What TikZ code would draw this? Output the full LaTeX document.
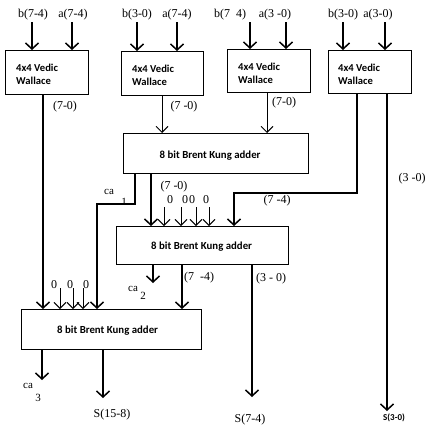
\documentclass[tikz,border=0pt]{standalone}
\usepackage{fontspec}
\setmainfont{Liberation Serif}
\newfontfamily\bxf{Carlito}
\usetikzlibrary{arrows.meta}
\begin{document}
\begin{tikzpicture}[x=1pt,y=-1pt,
  box/.style={draw,line width=1.2pt,inner sep=0pt,anchor=north west},
  wtxt/.style={anchor=west,align=left,font=\bxf\bfseries\fontsize{10.6}{13}\selectfont,inner sep=0pt},
  btxt/.style={font=\bxf\bfseries\fontsize{10.8}{12}\selectfont,inner sep=0pt},
  lbl/.style={font=\fontsize{12}{14}\selectfont,inner sep=0pt},
  slbl/.style={font=\fontsize{11}{13}\selectfont,inner sep=0pt},
  arr/.style={line width=1.5pt,-{Straight Barb[length=6pt,width=13pt]}},
  tarr/.style={line width=0.9pt,-{Straight Barb[length=6pt,width=12pt]}},
  ln/.style={line width=1.5pt}
]
\useasboundingbox (0,0) rectangle (430,431);

% Wallace boxes
\node[box,minimum width=83pt,minimum height=44pt] (w1) at (5,50) {};
\node[box,minimum width=82pt,minimum height=44pt] (w2) at (121,51) {};
\node[box,minimum width=83pt,minimum height=43pt] (w3) at (227,49) {};
\node[box,minimum width=83pt,minimum height=43pt] (w4) at (328,50) {};
\node[wtxt] (t1) at ([xshift=11pt,yshift=-2pt]w1.west) {4x4 Vedic\\Wallace};
\node[wtxt] (t2) at ([xshift=11pt,yshift=-2pt]w2.west) {4x4 Vedic\\Wallace};
\node[wtxt] (t3) at ([xshift=11pt,yshift=-2pt]w3.west) {4x4 Vedic\\Wallace};
\node[wtxt] (t4) at ([xshift=10pt,yshift=-2pt]w4.west) {4x4 Vedic\\Wallace};

% Brent Kung adders
\node[box,minimum width=185pt,minimum height=40pt] (bk1) at (123,133) {};
\node[btxt] (bt1) at ([xshift=-6pt,yshift=-2pt]bk1.center) {8 bit Brent Kung adder};
\node[box,minimum width=172pt,minimum height=38pt] (bk2) at (116,226) {};
\node[btxt] (bt2) at ([xshift=-1pt,yshift=-1pt]bk2.center) {8 bit Brent Kung adder};
\node[box,minimum width=180pt,minimum height=40pt] (bk3) at (21,309) {};
\node[btxt] (bt3) at ([xshift=-4pt,yshift=-1pt]bk3.center) {8 bit Brent Kung adder};

% top input labels
\node[lbl] (l1) at (33,15) {b(7-4)};
\node[lbl] (l2) at (73,15) {a(7-4)};
\node[lbl] (l3) at (137,15) {b(3-0)};
\node[lbl] (l4) at (177,15) {a(7-4)};
\node[lbl] (l5) at (230,15) {b(7\ \ 4)};
\node[lbl] (l6) at (275,15) {a(3 -0)};
\node[lbl] (l7) at (343,15) {b(3-0)};
\node[lbl] (l8) at (378,15) {a(3-0)};

% input arrows
\coordinate (i1) at (32,22);  \draw[arr] (i1) -- (i1 |- w1.north);
\coordinate (i2) at (72,22);  \draw[arr] (i2) -- (i2 |- w1.north);
\coordinate (i3) at (137,22); \draw[arr] (i3) -- (i3 |- w2.north);
\coordinate (i4) at (177,22); \draw[arr] (i4) -- (i4 |- w2.north);
\coordinate (i5) at (250,22); \draw[arr] (i5) -- (i5 |- w3.north);
\coordinate (i6) at (286,22); \draw[arr] (i6) -- (i6 |- w3.north);
\coordinate (i7) at (343,22); \draw[arr] (i7) -- (i7 |- w4.north);
\coordinate (i8) at (385,22); \draw[arr] (i8) -- (i8 |- w4.north);

% Wallace outputs
\coordinate (w1o) at (43,94);
\draw[arr] (w1o) -- (w1o |- bk3.north);
\node[lbl] (o1) at (65,107) {(7-0)};
\coordinate (w2o) at (162,95);
\draw[tarr] (w2o) -- (w2o |- bk1.north);
\node[lbl] (o2) at (184,107) {(7 -0)};
\coordinate (w3o) at (267,92);
\draw[tarr] (w3o) -- (w3o |- bk1.north);
\node[lbl] (o3) at (284,103) {(7-0)};
\coordinate (w4a) at (357,93);
\coordinate (w4b) at (234,193);
\draw[arr] (w4a) |- (w4b) -- (w4b |- bk2.north);
\node[lbl] (o4) at (277,201) {(7 -4)};
\coordinate (w4c) at (387,93);
\coordinate (s3) at (387,411);
\draw[arr] (w4c) -- (s3);
\node[lbl] (o5) at (412,179) {(3 -0)};
\node[font=\bxf\bfseries\fontsize{9}{11}\selectfont,inner sep=0pt] (s3l) at (394,418) {S(3-0)};

% BK1 outputs
\coordinate (c1a) at (135,173);
\coordinate (c1b) at (97,204);
\draw[arr] (c1a) |- (c1b) -- (c1b |- bk3.north);
\node[slbl] (ca1) at (109,192) {ca};
\node[slbl] (ca1n) at (124,202) {1};
\coordinate (b1o) at (151,173);
\draw[arr] (b1o) -- (b1o |- bk2.north);
\node[lbl] (o6) at (174,187) {(7 -0)};
\coordinate (z1) at (164,207); \draw[tarr] (z1) -- (z1 |- bk2.north);
\coordinate (z2) at (181,207); \draw[tarr] (z2) -- (z2 |- bk2.north);
\coordinate (z3) at (196,207); \draw[tarr] (z3) -- (z3 |- bk2.north);
\coordinate (z4) at (209,207); \draw[tarr] (z4) -- (z4 |- bk2.north);
\node[lbl] (zl1) at (170,200) {0};
\node[lbl] (zl2) at (185,200) {0};
\node[lbl] (zl3) at (192,200) {0};
\node[lbl] (zl4) at (206,200) {0};

% BK2 outputs
\coordinate (c2) at (153,283);
\draw[arr] (c2 |- bk2.south) -- (c2);
\node[slbl] (ca2) at (133,289) {ca};
\node[slbl] (ca2n) at (143,296) {2};
\coordinate (b2o) at (182,264);
\draw[arr] (b2o) -- (b2o |- bk3.north);
\node[lbl] (o7) at (199,278) {(7\ \ -4)};
\coordinate (s2) at (252,397);
\draw[arr] (s2 |- bk2.south) -- (s2);
\node[lbl] (o8) at (271,279) {(3 - 0)};
\node[lbl] (s2l) at (250,420) {S(7-4)};

% BK3 inputs (zeros)
\coordinate (y1) at (60,288); \draw[tarr] (y1) -- (y1 |- bk3.north);
\coordinate (y2) at (73,288); \draw[tarr] (y2) -- (y2 |- bk3.north);
\coordinate (y3) at (83,288); \draw[tarr] (y3) -- (y3 |- bk3.north);
\node[lbl] (yl1) at (54,285) {0};
\node[lbl] (yl2) at (70,285) {0};
\node[lbl] (yl3) at (86,285) {0};

% BK3 outputs
\coordinate (c3) at (42,380);
\draw[arr] (c3 |- bk3.south) -- (c3);
\node[slbl] (ca3) at (28,386) {ca};
\node[slbl] (ca3n) at (38,398) {3};
\coordinate (s1) at (103,398);
\draw[arr] (s1 |- bk3.south) -- (s1);
\node[lbl] (s1l) at (112,415) {S(15-8)};
\end{tikzpicture}
\end{document}
